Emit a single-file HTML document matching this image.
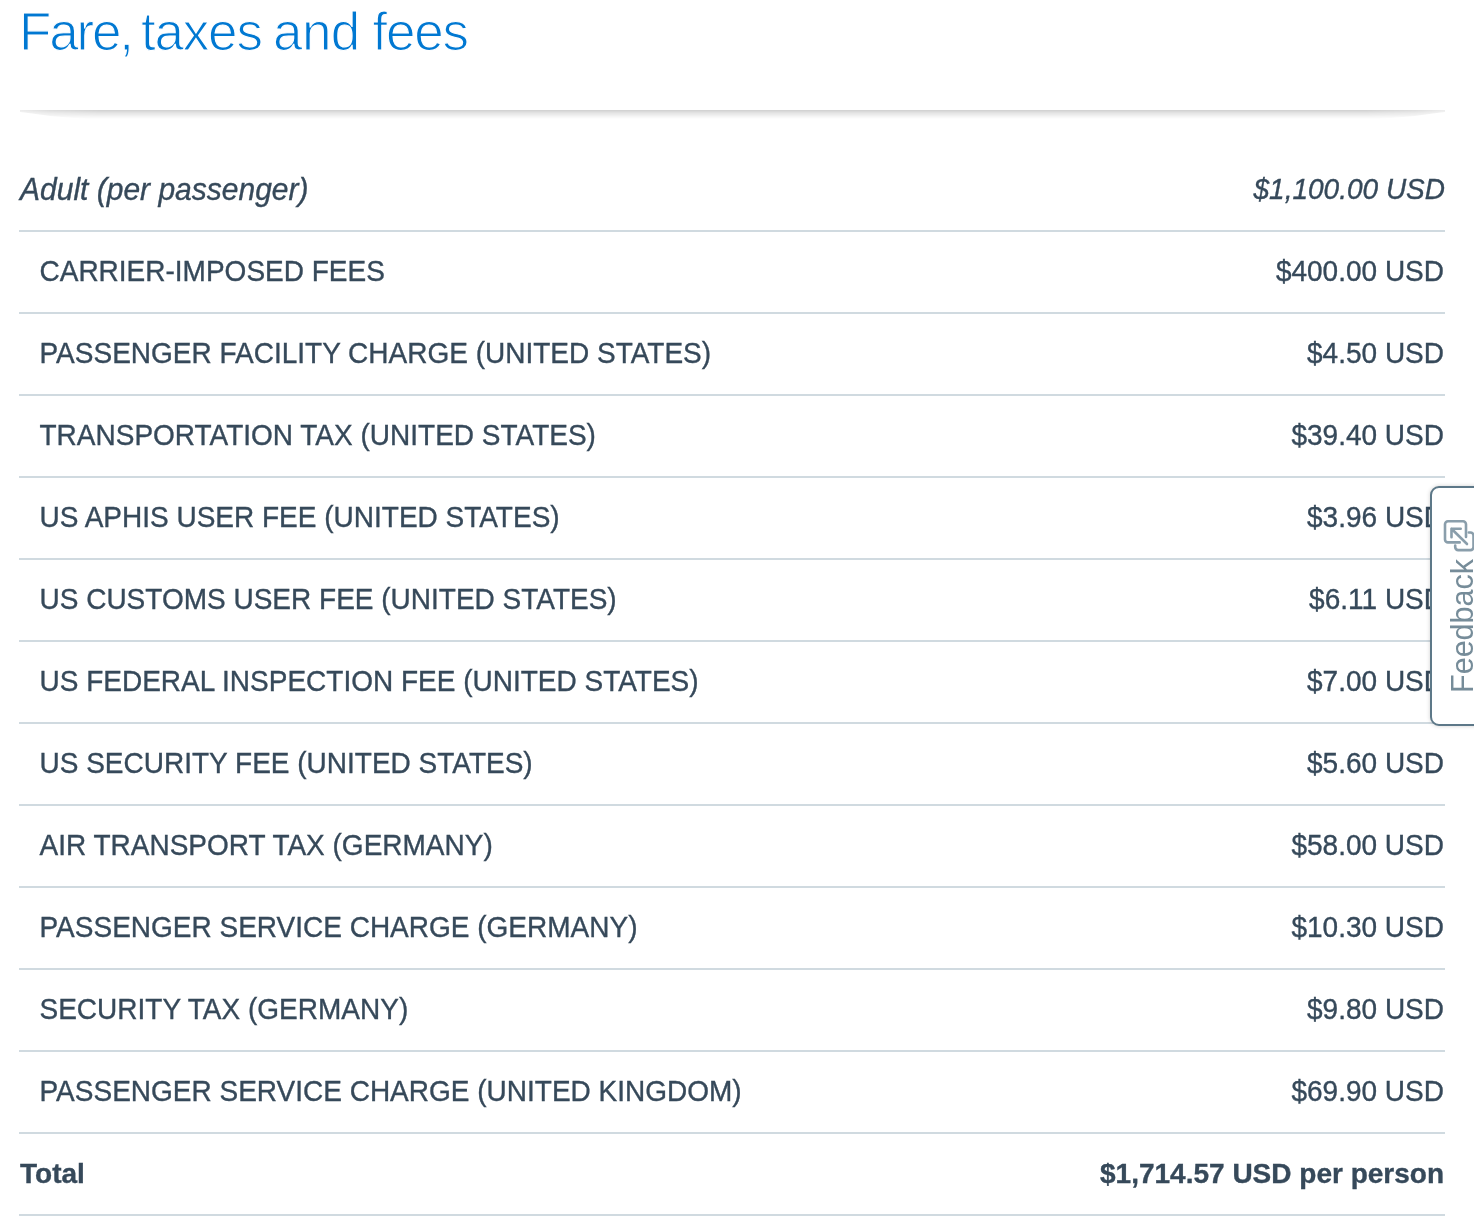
<!DOCTYPE html>
<html lang="en">
<head>
<meta charset="utf-8">
<title>Fare, taxes and fees</title>
<style>
html,body{margin:0;padding:0;background:#fff;}
body{width:1474px;height:1232px;position:relative;overflow:hidden;font-family:"Liberation Sans",Arial,sans-serif;color:#36495a;}
h1{position:absolute;left:0;top:1px;width:600px;height:62px;margin:0;font-weight:normal;font-size:53px;line-height:62px;color:#0078d2;white-space:nowrap;-webkit-text-stroke:1.2px #fff;}
h1 span{position:absolute;top:0;}
h1 .w1{left:19px;letter-spacing:-2.2px;}
h1 .w2{left:141px;letter-spacing:-1.2px;}
h1 .w3{left:273px;letter-spacing:-.6px;}
h1 .w4{left:372.5px;letter-spacing:-1.2px;}
.shadow{position:absolute;left:20px;top:110px;width:1425px;height:9px;background:linear-gradient(to bottom,rgba(0,0,0,.185) 0,rgba(0,0,0,.1) 35%,rgba(0,0,0,.035) 75%,rgba(0,0,0,0) 100%);-webkit-mask-image:linear-gradient(to right,rgba(0,0,0,.4) 0,rgba(0,0,0,.75) 30px,#000 80px,#000 calc(100% - 80px),rgba(0,0,0,.75) calc(100% - 30px),rgba(0,0,0,.4) 100%);mask-image:linear-gradient(to right,rgba(0,0,0,.4) 0,rgba(0,0,0,.75) 30px,#000 80px,#000 calc(100% - 80px),rgba(0,0,0,.75) calc(100% - 30px),rgba(0,0,0,.4) 100%);clip-path:polygon(0 0,100% 0,100% 2px,calc(100% - 12px) 3.5px,calc(100% - 30px) 6px,calc(100% - 65px) 100%,65px 100%,30px 6px,12px 3.5px,0 2px);}
table{position:absolute;left:19px;top:148px;width:1426px;border-collapse:collapse;table-layout:fixed;}
td{height:80px;padding:0;border-bottom:2px solid #d0dae0;font-size:28px;line-height:32px;vertical-align:middle;white-space:nowrap;}
td span{display:inline-block;transform-origin:0 80%;transform:scaleY(1.04);-webkit-text-stroke:.35px #36495a;}
td.r span{transform-origin:100% 80%;}
tr.adult td span{transform:scaleY(1.035);position:relative;top:1px;}
tr.total td span{transform:scaleY(1.02);}
td.l{padding-left:20.5px;text-align:left;}
td.r{text-align:right;padding-right:1px;width:500px;}
tr.adult td{font-style:italic;font-size:30px;padding-left:1px;height:82px;}
tr.adult td.r{font-size:28px;padding-right:0;}
tr.total td{font-weight:bold;padding-left:1px;}
.fb{position:absolute;left:1430px;top:486px;width:60px;height:240px;box-sizing:border-box;border:2px solid #5d7888;border-radius:9px;background:#fff;box-shadow:0 0 4px rgba(0,0,0,.18);}
.fb span{position:absolute;left:0;top:0;transform-origin:0 0;transform:translate(12.5px,205px) rotate(-90deg) scaleX(.985);font-size:31px;line-height:36px;color:#768c99;white-space:nowrap;}
.fb svg{position:absolute;left:8px;top:27px;width:40px;height:40px;overflow:visible;}
</style>
</head>
<body>
<h1><span class="w1">Fare,</span> <span class="w2">taxes</span> <span class="w3">and</span> <span class="w4">fees</span></h1>
<div class="shadow"></div>
<table>
<tr class="adult"><td class="l"><span>Adult (per passenger)</span></td><td class="r"><span>$1,100.00 USD</span></td></tr>
<tr><td class="l"><span>CARRIER-IMPOSED FEES</span></td><td class="r"><span>$400.00 USD</span></td></tr>
<tr><td class="l"><span>PASSENGER FACILITY CHARGE (UNITED STATES)</span></td><td class="r"><span>$4.50 USD</span></td></tr>
<tr><td class="l"><span>TRANSPORTATION TAX (UNITED STATES)</span></td><td class="r"><span>$39.40 USD</span></td></tr>
<tr><td class="l"><span>US APHIS USER FEE (UNITED STATES)</span></td><td class="r"><span>$3.96 USD</span></td></tr>
<tr><td class="l"><span>US CUSTOMS USER FEE (UNITED STATES)</span></td><td class="r"><span>$6.11 USD</span></td></tr>
<tr><td class="l"><span>US FEDERAL INSPECTION FEE (UNITED STATES)</span></td><td class="r"><span>$7.00 USD</span></td></tr>
<tr><td class="l"><span>US SECURITY FEE (UNITED STATES)</span></td><td class="r"><span>$5.60 USD</span></td></tr>
<tr><td class="l"><span>AIR TRANSPORT TAX (GERMANY)</span></td><td class="r"><span>$58.00 USD</span></td></tr>
<tr><td class="l"><span>PASSENGER SERVICE CHARGE (GERMANY)</span></td><td class="r"><span>$10.30 USD</span></td></tr>
<tr><td class="l"><span>SECURITY TAX (GERMANY)</span></td><td class="r"><span>$9.80 USD</span></td></tr>
<tr><td class="l"><span>PASSENGER SERVICE CHARGE (UNITED KINGDOM)</span></td><td class="r"><span>$69.90 USD</span></td></tr>
<tr class="total"><td class="l"><span>Total</span></td><td class="r"><span>$1,714.57 USD per person</span></td></tr>
</table>
<div class="fb"><span>Feedback</span>
<svg viewBox="0 0 40 40" fill="none" stroke="#8a9eab" stroke-width="2.6" stroke-linecap="round" stroke-linejoin="round">
<path d="M19.7 27.4H8a3 3 0 0 1-3-3V9.2a3 3 0 0 1 3-3h15a3 3 0 0 1 3 3V22"/>
<path d="M28.8 17.5H30.5a3 3 0 0 1 3 3V32.1a3 3 0 0 1-3 3H18.2a3 3 0 0 1-3-3V30.6"/>
<path d="M11.5 22.2V13.7H20.7M11.5 13.7L27 29"/>
</svg></div>
</body>
</html>
